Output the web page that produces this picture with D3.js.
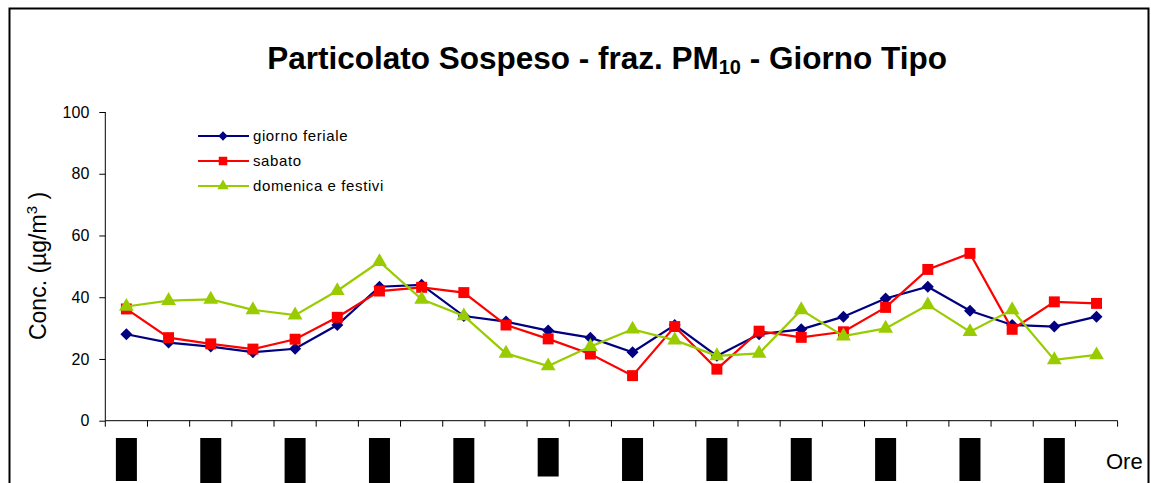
<!DOCTYPE html>
<html>
<head>
<meta charset="utf-8">
<script src="https://cdn.jsdelivr.net/npm/d3@7/dist/d3.min.js"></script>
<style>
  html, body { margin: 0; padding: 0; background: #fff; }
  svg { display: block; font-family: Arial, "Liberation Sans", sans-serif; }
</style>
</head>
<body>
<svg id="chart" width="1151" height="483"></svg>
<script>
const hours = ["0","1","2","3","4","5","6","7","8","9","10","11","12","13","14","15","16","17","18","19","20","21","22","23"];
const seriesNames = ["giorno feriale", "sabato", "domenica e festivi"];
const feriale = [28.0,25.3,24.0,22.2,23.3,31.0,43.4,44.0,33.9,32.1,29.2,26.9,22.2,31.0,21.0,28.0,29.6,33.7,39.6,43.4,35.6,31.0,30.5,33.7];
const sabato  = [36.2,26.9,24.9,23.2,26.4,33.5,42.0,43.2,41.5,31.0,26.5,21.6,14.6,30.5,16.7,29.0,27.0,28.8,36.7,49.0,54.2,29.6,38.5,38.0];
const festivi = [37.0,38.9,39.3,35.9,34.2,42.1,51.5,39.3,33.9,21.8,17.7,24.0,29.6,26.1,21.0,21.8,35.9,27.4,29.9,37.5,28.8,35.9,19.7,21.3];
const yTicks = [0, 20, 40, 60, 80, 100];

const svg = d3.select("#chart");

// frame
svg.append("rect").attr("x", 9.5).attr("y", 8.5).attr("width", 1139).attr("height", 500)
  .attr("fill", "none").attr("stroke", "#000").attr("stroke-width", 2);

const x = d3.scaleBand().domain(hours).range([105.3, 1117.6]).padding(0);
const y = d3.scaleLinear().domain([0, 100]).range([420.7, 112]);

// title
const title = svg.append("text").attr("x", 607).attr("y", 69).attr("text-anchor", "middle")
  .attr("font-size", 31.5).attr("font-weight", "bold").attr("fill", "#000");
title.append("tspan").text("Particolato Sospeso - fraz. PM");
title.append("tspan").attr("font-size", 20).attr("dy", 5).text("10");
title.append("tspan").attr("dy", -5).text(" - Giorno Tipo");

// y axis
const yAxis = svg.append("g").attr("transform", "translate(105.3,0)")
  .call(d3.axisLeft(y).tickValues(yTicks).tickSize(6).tickPadding(10));
yAxis.select(".domain").attr("stroke", "#000").attr("d", `M0,${y(100)}V${y(0)}`);
yAxis.selectAll("text").attr("font-size", 16).attr("font-family", "Arial, 'Liberation Sans', sans-serif").attr("fill", "#000");

// y label
const yl = svg.append("text").attr("transform", "translate(46,266) rotate(-90)")
  .attr("text-anchor", "middle").attr("font-size", 23).attr("fill", "#000");
yl.append("tspan").text("Conc. (µg/m");
yl.append("tspan").attr("font-size", 15).attr("dy", -9).text("3");
yl.append("tspan").attr("dy", 9).text(" )");

// x axis
const xg = svg.append("g");
xg.append("line").attr("x1", x.range()[0]).attr("x2", x.range()[1])
  .attr("y1", y(0)).attr("y2", y(0)).attr("stroke", "#000").attr("stroke-width", 1);
const bounds = hours.map(h => x(h)).concat([x.range()[1]]);
xg.selectAll("line.tick").data(bounds).join("line").attr("class", "tick")
  .attr("x1", d => d).attr("x2", d => d).attr("y1", y(0)).attr("y2", y(0) + 6)
  .attr("stroke", "#000");

// hidden (redacted) tick labels drawn as black blocks on every other hour
const boxBottom = { "2": 486, "4": 486, "6": 486, "8": 486, "10": 476.5, "22": 486 };
xg.selectAll("rect.lab").data(hours.filter((h, i) => i % 2 === 0)).join("rect").attr("class", "lab")
  .attr("x", d => x(d) + x.bandwidth() / 2 - 10.5).attr("y", 438)
  .attr("width", 21).attr("height", d => (boxBottom[d] || 481) - 438)
  .attr("fill", "#000");

svg.append("text").attr("x", 1106).attr("y", 469).attr("font-size", 22).attr("fill", "#000").text("Ore");

// series
const series = [
  { name: seriesNames[0], values: feriale, color: "#000080", symbol: d3.symbolSquare, rot: 45, size: 72 },
  { name: seriesNames[1], values: sabato, color: "#FF0000", symbol: d3.symbolSquare, rot: 0, size: 120 },
  { name: seriesNames[2], values: festivi, color: "#99CC00", symbol: d3.symbolTriangle, rot: 0, size: 95 }
];
const cx = (i) => x(hours[i]) + x.bandwidth() / 2;
const line = d3.line().x((d, i) => cx(i)).y(d => y(d));

series.forEach(s => {
  const g = svg.append("g");
  g.append("path").datum(s.values).attr("d", line).attr("fill", "none")
    .attr("stroke", s.color).attr("stroke-width", 2.2);
  g.selectAll("path.m").data(s.values).join("path").attr("class", "m")
    .attr("transform", (d, i) => `translate(${cx(i)},${y(d)}) rotate(${s.rot})`)
    .attr("d", d3.symbol().type(s.symbol).size(s.size)).attr("fill", s.color);
});

// legend
const lg = svg.append("g");
series.forEach((s, i) => {
  const ly = 136 + i * 25;
  lg.append("line").attr("x1", 198).attr("x2", 249).attr("y1", ly).attr("y2", ly)
    .attr("stroke", s.color).attr("stroke-width", 2);
  lg.append("path").attr("transform", `translate(223,${ly}) rotate(${s.rot})`)
    .attr("d", d3.symbol().type(s.symbol).size(s.size * 0.6)).attr("fill", s.color);
  lg.append("text").attr("x", 253).attr("y", ly + 5).attr("font-size", 15)
    .attr("letter-spacing", 0.6).attr("fill", "#000").text(s.name);
});
</script>
</body>
</html>
